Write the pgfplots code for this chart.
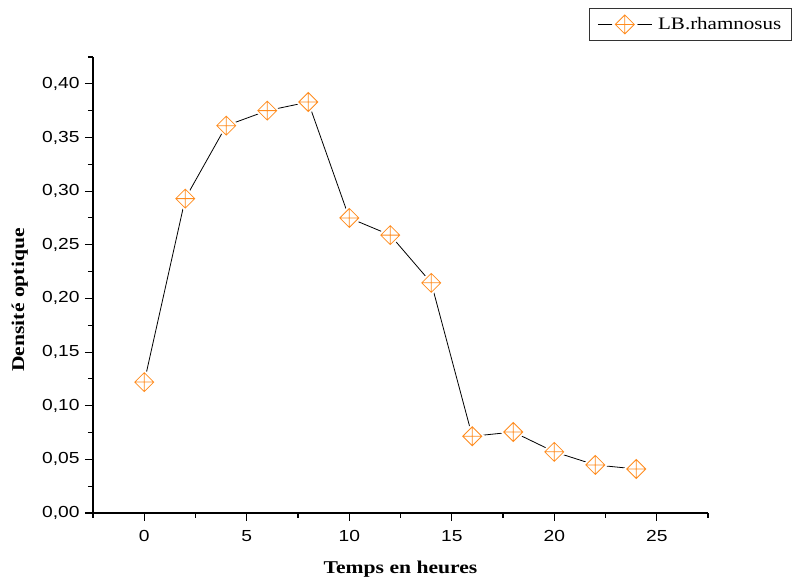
\documentclass[border=0pt]{standalone}
\usepackage{pgfplots}
\pgfplotsset{compat=1.18}
\usepackage{fontspec}
\setmainfont[FakeStretch=1.2]{Liberation Serif}
\newfontfamily\arial[FakeStretch=1.2]{Liberation Sans}
\definecolor{mkorange}{RGB}{255,140,30}
\pgfdeclareplotmark{diamondplus}{%
  \pgfsetfillcolor{white}%
  \pgfpathmoveto{\pgfqpoint{0pt}{1.35\pgfplotmarksize}}%
  \pgfpathlineto{\pgfqpoint{1.35\pgfplotmarksize}{0pt}}%
  \pgfpathlineto{\pgfqpoint{0pt}{-1.35\pgfplotmarksize}}%
  \pgfpathlineto{\pgfqpoint{-1.35\pgfplotmarksize}{0pt}}%
  \pgfpathclose
  \pgfusepathqfill
  \pgfpathmoveto{\pgfqpoint{0pt}{\pgfplotmarksize}}%
  \pgfpathlineto{\pgfqpoint{\pgfplotmarksize}{0pt}}%
  \pgfpathlineto{\pgfqpoint{0pt}{-\pgfplotmarksize}}%
  \pgfpathlineto{\pgfqpoint{-\pgfplotmarksize}{0pt}}%
  \pgfpathclose
  \pgfpathmoveto{\pgfqpoint{0pt}{\pgfplotmarksize}}%
  \pgfpathlineto{\pgfqpoint{0pt}{-\pgfplotmarksize}}%
  \pgfpathmoveto{\pgfqpoint{\pgfplotmarksize}{0pt}}%
  \pgfpathlineto{\pgfqpoint{-\pgfplotmarksize}{0pt}}%
  \pgfusepathqstroke
}
\begin{document}
\begin{tikzpicture}[x=1pt,y=1pt]
\path[use as bounding box] (0,0) rectangle (794,585);
\begin{axis}[
  at={(93pt,72pt)}, anchor=south west,
  scale only axis, width=615pt, height=456pt,
  xmin=-2.5, xmax=27.5, ymin=0, ymax=0.425,
  axis x line=bottom, axis y line=left,
  axis line style={-, line width=1.1pt},
  every tick/.style={black, line width=1.1pt},
  tick align=outside,
  major tick length=8pt, minor tick length=5pt,
  xtick={0,5,...,25}, minor x tick num=1,
  ytick={0,0.05,...,0.41}, minor y tick num=1,
  extra x ticks={-2.5,27.5}, extra x tick labels={},
  extra x tick style={major tick length=5pt},
  extra y ticks={0.425}, extra y tick labels={},
  extra y tick style={major tick length=5pt},
  /pgf/number format/assume math mode=true,
  yticklabel style={/pgf/number format/fixed, /pgf/number format/fixed zerofill,
    /pgf/number format/precision=2, /pgf/number format/use comma, xshift=-2pt},
  ticklabel style={font=\arial\fontsize{16}{19}\selectfont},
  xticklabel style={yshift=-6pt},
  xlabel={Temps en heures}, ylabel={Densité optique},
  label style={font=\bfseries\fontsize{18}{21}\selectfont},
  xlabel style={at={(axis description cs:0.5,-0.123)}, anchor=center},
  ylabel style={at={(axis description cs:-0.119,0.467)}, anchor=center},
  legend style={at={(rel axis cs:1.136,1.107)}, anchor=north east,
    font=\fontsize{17.5}{20}\selectfont, draw=black!80, line width=0.8pt,
    inner xsep=8pt, inner ysep=3pt, column sep=4pt},
  legend image code/.code={%
    \draw[mark repeat=2, mark phase=2, #1] plot coordinates {(0pt,0pt) (27pt,0pt) (54pt,0pt)};},
  clip=false,
]
\addplot[black, line width=0.8pt, mark=diamondplus, mark size=9.5pt,
  mark options={draw=mkorange, line width=0.8pt}]
  coordinates {(0,0.122) (2,0.293) (4,0.361) (6,0.375) (8,0.383) (10,0.275)
  (12,0.259) (14,0.2145) (16,0.0715) (18,0.0755) (20,0.057) (22,0.0448) (24,0.041)};
\addlegendentry{LB.rhamnosus}
\end{axis}
\end{tikzpicture}
\end{document}
